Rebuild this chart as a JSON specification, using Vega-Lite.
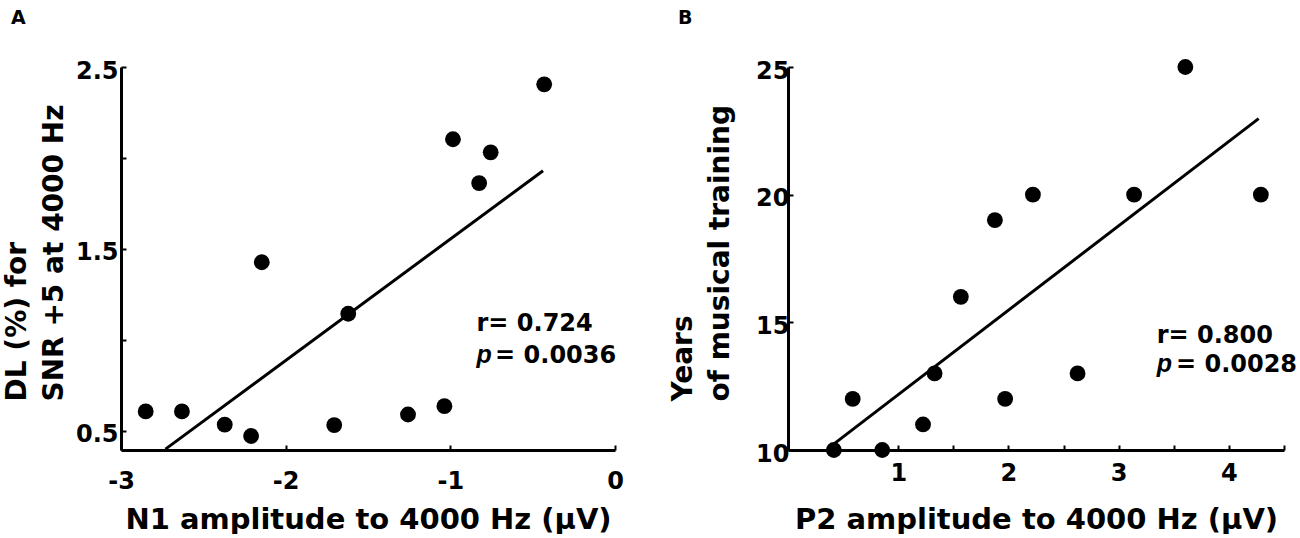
{
  "$schema": "https://vega.github.io/schema/vega-lite/v6.json",
  "background": "white",
  "padding": {"left": 3, "top": 9, "right": 0, "bottom": 0},
  "datasets": {
    "a_points": [
      {"n1": -2.85, "dl": 0.607},
      {"n1": -2.63, "dl": 0.607},
      {"n1": -2.37, "dl": 0.534},
      {"n1": -2.21, "dl": 0.472},
      {"n1": -2.145, "dl": 1.427},
      {"n1": -1.705, "dl": 0.532},
      {"n1": -1.62, "dl": 1.144},
      {"n1": -1.257, "dl": 0.59},
      {"n1": -1.036, "dl": 0.636},
      {"n1": -0.984, "dl": 2.103},
      {"n1": -0.825, "dl": 1.862},
      {"n1": -0.755, "dl": 2.031},
      {"n1": -0.43, "dl": 2.405}
    ],
    "a_fit": [
      {"n1": -2.73, "dl": 0.4},
      {"n1": -0.437, "dl": 1.93}
    ],
    "a_notes": [
      {"n1": -0.841, "dl": 1.049, "label": "r= 0.724", "kind": "plain"},
      {"n1": -0.841, "dl": 0.873, "label": "p", "kind": "italic"},
      {"n1": -0.728, "dl": 0.873, "label": "= 0.0036", "kind": "plain"}
    ],
    "b_points": [
      {"p2": 0.416, "years": 10},
      {"p2": 0.587, "years": 12},
      {"p2": 0.855, "years": 10},
      {"p2": 1.225, "years": 11},
      {"p2": 1.33, "years": 13},
      {"p2": 1.568, "years": 16},
      {"p2": 1.877, "years": 19},
      {"p2": 1.97, "years": 12},
      {"p2": 2.222, "years": 20},
      {"p2": 2.627, "years": 13},
      {"p2": 3.14, "years": 20},
      {"p2": 3.605, "years": 25},
      {"p2": 4.29, "years": 20}
    ],
    "b_fit": [
      {"p2": 0.42, "years": 10.25},
      {"p2": 4.27, "years": 22.98}
    ],
    "b_notes": [
      {"p2": 3.345, "years": 14.18, "label": "r= 0.800", "kind": "plain"},
      {"p2": 3.345, "years": 13.04, "label": "p", "kind": "italic"},
      {"p2": 3.52, "years": 13.04, "label": "= 0.0028", "kind": "plain"}
    ]
  },
  "hconcat": [
    {
      "width": 494,
      "height": 383,
      "title": {
        "text": "A",
        "anchor": "start",
        "frame": "group",
        "dx": -110,
        "offset": 16,
        "baseline": "alphabetic",
        "font": "DejaVu Sans",
        "fontSize": 19,
        "fontWeight": "bold",
        "color": "black"
      },
      "layer": [
        {
          "data": {"name": "a_points"},
          "mark": {"type": "point", "filled": true, "shape": "circle", "size": 250, "color": "black", "opacity": 1},
          "encoding": {
            "x": {
              "field": "n1",
              "type": "quantitative",
              "scale": {"domain": [-3, 0], "nice": false, "zero": false},
              "axis": {
                "values": [-3, -2, -1, 0],
                "labelExpr": "'' + datum.value",
                "labelPadding": 24,
                "labelFontSize": 24,
                "title": "N1 amplitude to 4000 Hz (µV)",
                "titleBaseline": "alphabetic",
                "titleY": 78
              }
            },
            "y": {
              "field": "dl",
              "type": "quantitative",
              "scale": {"domain": [0.395, 2.5], "nice": false, "zero": false},
              "axis": {
                "values": [0.5, 1, 1.5, 2, 2.5],
                "labelExpr": "datum.value == 1 || datum.value == 2 ? '' : format(datum.value, '.1f')",
                "labelPadding": 8,
                "labelOffset": 4,
                "title": ["DL (%) for", "SNR +5 at 4000 Hz"],
                "titleFontSize": 28,
                "titleLineHeight": 37,
                "titleAngle": -90,
                "titleAlign": "left",
                "titleBaseline": "bottom",
                "titleX": -90,
                "titleY": 334
              }
            }
          }
        },
        {
          "data": {"name": "a_fit"},
          "mark": {"type": "line", "color": "black", "strokeWidth": 3},
          "encoding": {
            "x": {"field": "n1", "type": "quantitative"},
            "y": {"field": "dl", "type": "quantitative"}
          }
        },
        {
          "data": {"name": "a_notes"},
          "transform": [{"filter": "datum.kind == 'plain'"}],
          "mark": {"type": "text", "align": "left", "baseline": "alphabetic", "font": "DejaVu Sans", "fontSize": 24, "fontWeight": "bold", "color": "black"},
          "encoding": {
            "x": {"field": "n1", "type": "quantitative"},
            "y": {"field": "dl", "type": "quantitative"},
            "text": {"field": "label", "type": "nominal"}
          }
        },
        {
          "data": {"name": "a_notes"},
          "transform": [{"filter": "datum.kind == 'italic'"}],
          "mark": {"type": "text", "align": "left", "baseline": "alphabetic", "font": "Liberation Sans", "fontSize": 25, "fontWeight": "bold", "fontStyle": "italic", "color": "black"},
          "encoding": {
            "x": {"field": "n1", "type": "quantitative"},
            "y": {"field": "dl", "type": "quantitative"},
            "text": {"field": "label", "type": "nominal"}
          }
        }
      ]
    },
    {
      "width": 496,
      "height": 383,
      "title": {
        "text": "B",
        "anchor": "start",
        "frame": "group",
        "dx": -110,
        "offset": 16,
        "baseline": "alphabetic",
        "font": "DejaVu Sans",
        "fontSize": 19,
        "fontWeight": "bold",
        "color": "black"
      },
      "layer": [
        {
          "data": {"name": "b_points"},
          "mark": {"type": "point", "filled": true, "shape": "circle", "size": 250, "color": "black", "opacity": 1},
          "encoding": {
            "x": {
              "field": "p2",
              "type": "quantitative",
              "scale": {"domain": [0, 4.5], "nice": false, "zero": false},
              "axis": {
                "values": [1, 1.5, 2, 2.5, 3, 3.5, 4, 4.5],
                "labelExpr": "datum.value % 1 == 0 ? '' + datum.value : ''",
                "labelPadding": 16,
                "labelFontSize": 24,
                "title": "P2 amplitude to 4000 Hz (µV)",
                "titleBaseline": "alphabetic",
                "titleY": 78
              }
            },
            "y": {
              "field": "years",
              "type": "quantitative",
              "scale": {"domain": [10, 25], "nice": false, "zero": false},
              "axis": {
                "values": [10, 15, 20, 25],
                "labelPadding": 4,
                "labelOffset": 4,
                "title": ["Years", "of musical training"],
                "titleFontSize": 28,
                "titleLineHeight": 37,
                "titleAngle": -90,
                "titleAlign": "left",
                "titleBaseline": "bottom",
                "titleX": -91,
                "titleY": 334
              }
            }
          }
        },
        {
          "data": {"name": "b_fit"},
          "mark": {"type": "line", "color": "black", "strokeWidth": 3},
          "encoding": {
            "x": {"field": "p2", "type": "quantitative"},
            "y": {"field": "years", "type": "quantitative"}
          }
        },
        {
          "data": {"name": "b_notes"},
          "transform": [{"filter": "datum.kind == 'plain'"}],
          "mark": {"type": "text", "align": "left", "baseline": "alphabetic", "font": "DejaVu Sans", "fontSize": 24, "fontWeight": "bold", "color": "black"},
          "encoding": {
            "x": {"field": "p2", "type": "quantitative"},
            "y": {"field": "years", "type": "quantitative"},
            "text": {"field": "label", "type": "nominal"}
          }
        },
        {
          "data": {"name": "b_notes"},
          "transform": [{"filter": "datum.kind == 'italic'"}],
          "mark": {"type": "text", "align": "left", "baseline": "alphabetic", "font": "Liberation Sans", "fontSize": 25, "fontWeight": "bold", "fontStyle": "italic", "color": "black"},
          "encoding": {
            "x": {"field": "p2", "type": "quantitative"},
            "y": {"field": "years", "type": "quantitative"},
            "text": {"field": "label", "type": "nominal"}
          }
        }
      ]
    }
  ],
  "spacing": 45,
  "config": {
    "view": {"stroke": null},
    "font": "DejaVu Sans",
    "axis": {
      "grid": false,
      "domainColor": "black",
      "domainWidth": 3,
      "tickColor": "black",
      "tickWidth": 2,
      "tickSize": -5,
      "labelFont": "DejaVu Sans",
      "labelFontWeight": "bold",
      "labelFontSize": 24,
      "labelColor": "black",
      "labelFlush": false,
      "labelOverlap": false,
      "titleFont": "DejaVu Sans",
      "titleFontWeight": "bold",
      "titleFontSize": 29,
      "titleColor": "black"
    }
  }
}
